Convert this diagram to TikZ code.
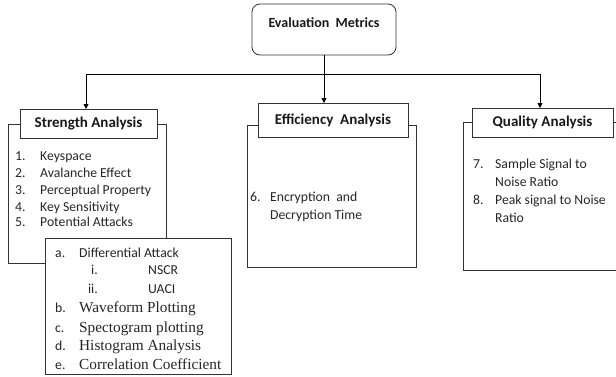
\documentclass[tikz,border=0pt]{standalone}
\usepackage{fontspec}
\setmainfont{Carlito}
\newfontfamily\tnr{Liberation Serif}
\usetikzlibrary{arrows.meta}
\begin{document}
\begin{tikzpicture}[x=1pt,y=-1pt,
  boxframe/.style={draw=black!80, line width=0.8pt, inner sep=0pt, outer sep=0pt},
  titlebox/.style={draw=black!80, fill=white, line width=0.8pt, inner sep=0pt, outer sep=0pt, font=\bfseries\fontsize{15}{18}\selectfont, text=black!90},
  conn/.style={draw=black, line width=0.8pt},
  arr/.style={conn,-{Triangle[length=5pt,width=5pt]}},
  lbl/.style={anchor=base west, inner sep=0pt, font=\fontsize{13.7}{16}\selectfont, text=black!85},
  lble/.style={anchor=base east, inner sep=0pt, font=\fontsize{13.7}{16}\selectfont, text=black!85},
  ser/.style={anchor=base west, inner sep=0pt, font=\tnr\fontsize{15.3}{18}\selectfont, text=black!85},
]
\clip (0,0) rectangle (616,376);
% top box
\node[boxframe, rounded corners=8pt, minimum width=144pt, minimum height=51pt] (top) at (324,29.5) {};
\node[inner sep=0pt, font=\bfseries\fontsize{14}{16}\selectfont, text=black!90] (toptext) at (324,23) {Evaluation\ \ Metrics};
% frames
\node[boxframe, minimum width=158pt, minimum height=139pt] (sframe) at (87,193.5) {};
\node[boxframe, minimum width=169pt, minimum height=142pt] (eframe) at (331.5,196) {};
\node[boxframe, minimum width=162pt, minimum height=148pt] (qframe) at (544,196) {};
% titles
\node[titlebox, minimum width=137pt, minimum height=29pt] (stitle) at (88.5,123.5) {Strength Analysis};
\node[titlebox, minimum width=150pt, minimum height=34pt] (etitle) at (333,120) {Efficiency\ \ Analysis};
\node[titlebox, minimum width=141pt, minimum height=29pt] (qtitle) at (542.5,122.5) {Quality Analysis};
% connectors
\coordinate (hub) at (324,74);
\coordinate (lj) at (86,74);
\coordinate (rj) at (540,74);
\draw[conn] (lj) -- (rj);
\draw[arr] (top.south) -- (etitle.north -| top.south);
\draw[arr] (lj) -- (lj |- stitle.north);
\draw[arr] (rj) -- (rj |- qtitle.north);
% strength list
\node[lbl] (n1) at (15,160) {1.};   \node[lbl] (t1) at (40,160) {Keyspace};
\node[lbl] (n2) at (15,177) {2.};   \node[lbl] (t2) at (40,177) {Avalanche Effect};
\node[lbl] (n3) at (15,194) {3.};   \node[lbl] (t3) at (40,194) {Perceptual Property};
\node[lbl] (n4) at (15,211) {4.};   \node[lbl] (t4) at (40,211) {Key Sensitivity};
\node[lbl] (n5) at (15,226) {5.};   \node[lbl] (t5) at (40,226) {Potential Attacks};
% sub box
\node[boxframe, fill=white, minimum width=186pt, minimum height=136pt] (sub) at (138,306) {};
\node[lbl] (la) at (55,257) {a.};  \node[lbl] (ta) at (79,257) {Differential Attack};
\node[lble] (li) at (98,274) {i.}; \node[lbl] (ti) at (148,274) {NSCR};
\node[lble] (lii) at (98,293) {ii.}; \node[lbl] (tii) at (148,293) {UACI};
\node[lbl] (lb) at (55,312) {b.};  \node[ser] (tb) at (79,312) {Waveform Plotting};
\node[lbl] (lc) at (55,332) {c.};  \node[ser] (tc) at (79,332) {Spectogram plotting};
\node[lbl] (ld) at (55,350) {d.};  \node[ser] (td) at (79,350) {Histogram Analysis};
\node[lbl] (le) at (55,369) {e.};  \node[ser] (te) at (79,369) {Correlation Coefficient};
% efficiency
\node[lbl] (n6) at (250,201) {6.};  \node[lbl] (t6a) at (270,201) {Encryption\ \ and};
\node[lbl] (t6b) at (270,219) {Decryption Time};
% quality
\node[lbl] (n7) at (473,168) {7.};  \node[lbl] (t7a) at (495,168) {Sample Signal to};
\node[lbl] (t7b) at (495,186) {Noise Ratio};
\node[lbl] (n8) at (473,204) {8.};  \node[lbl] (t8a) at (495,204) {Peak signal to Noise};
\node[lbl] (t8b) at (495,222) {Ratio};
\end{tikzpicture}
\end{document}
